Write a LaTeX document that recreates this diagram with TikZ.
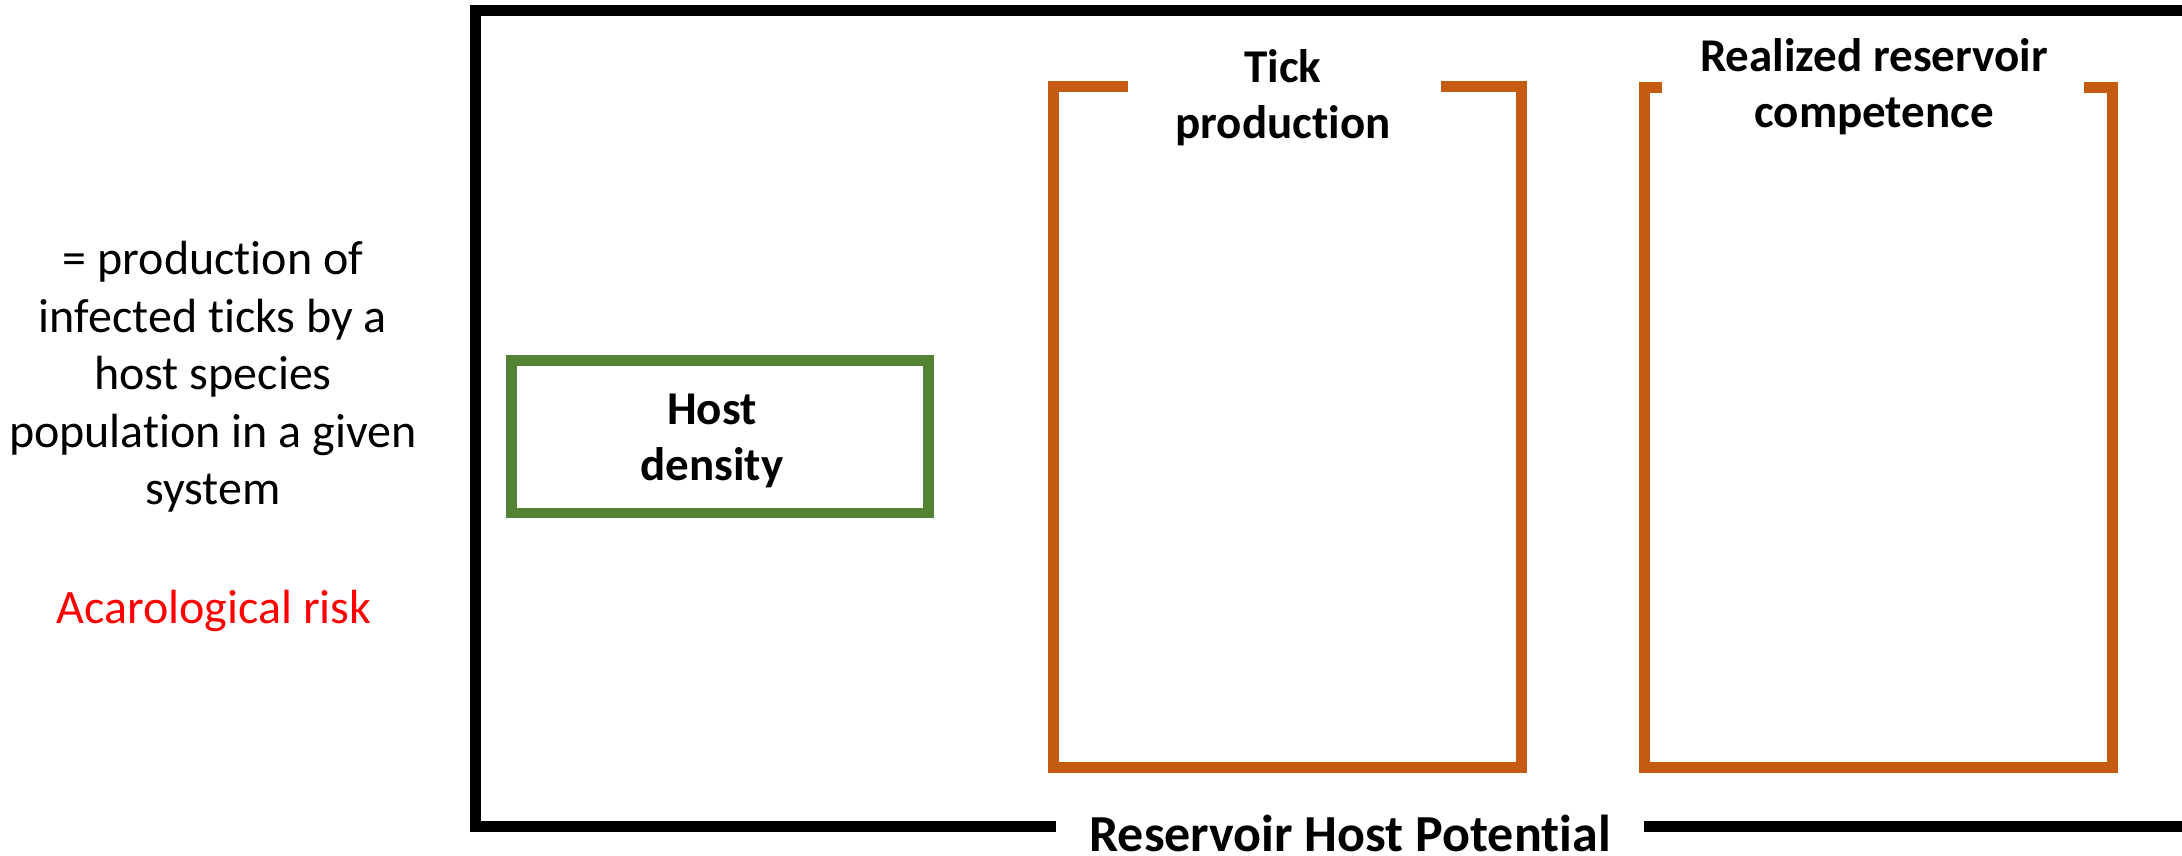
\documentclass[tikz,border=0pt]{standalone}
\usepackage{fontspec}
\setmainfont[Ligatures=NoCommon]{Carlito}
\definecolor{frameorange}{HTML}{C55A11}
\definecolor{framegreen}{HTML}{548235}
\definecolor{riskred}{HTML}{FF0000}
\begin{document}
\begin{tikzpicture}[x=1pt,y=-1pt,
  blackframe/.style={draw=black,line width=11pt,line join=miter,line cap=butt},
  orangeframe/.style={draw=frameorange,line width=11pt,line join=miter,line cap=butt},
  greenbox/.style={draw=framegreen,line width=10.5pt,minimum width=417pt,minimum height=152.5pt,inner sep=0pt},
  boldlabel/.style={align=center,inner sep=0pt,font=\fontsize{47}{56}\selectfont\bfseries},
  plainlabel/.style={align=center,inner sep=0pt,font=\fontsize{48}{57.5}\selectfont}]
\useasboundingbox (0,0) rectangle (2182,856);
% outer frame (right side lies beyond the picture)
\coordinate (ftr) at (2182,11);
\coordinate (ftl) at (475,11);
\coordinate (fbl) at (475,826);
\coordinate (fbg) at (1056,826);
\coordinate (fbh) at (1644,826);
\coordinate (fbr) at (2182,826);
\draw[blackframe] (ftr) -- (ftl) -- (fbl) -- (fbg);
\draw[blackframe] (fbh) -- (fbr);
\node[boldlabel,font=\fontsize{52}{60}\selectfont\bfseries,anchor=base] (rhp) at (1350,851.5) {Reservoir Host Potential};
% tick production bracket
\coordinate (ta) at (1128,86.5);
\coordinate (tb) at (1053.5,86.5);
\coordinate (tc) at (1053.5,767);
\coordinate (td) at (1521,767);
\coordinate (te) at (1521,86.5);
\coordinate (tf) at (1441,86.5);
\draw[orangeframe] (ta) -- (tb) -- (tc) -- (td) -- (te) -- (tf);
\node[boldlabel] (tick) at (1283,98) {Tick\\production};
% realized reservoir competence bracket
\coordinate (ra) at (1662,87.5);
\coordinate (rb) at (1644,87.5);
\coordinate (rc) at (1644,767.5);
\coordinate (rd) at (2112,767.5);
\coordinate (re) at (2112,87.5);
\coordinate (rf) at (2084,87.5);
\draw[orangeframe] (ra) -- (rb) -- (rc) -- (rd) -- (re) -- (rf);
\node[boldlabel] (rrc) at (1874,87) {Realized reservoir\\competence};
% host density
\node[greenbox] (hostbox) at (719.75,436.75) {};
\node[boldlabel] (host) at (712,441) {Host\\density};
% left description
\node[plainlabel] (desc) at (213,377) {= production of\\infected ticks by a\\host species\\population in a given\\system};
\node[plainlabel,text=riskred] (risk) at (214,611) {Acarological risk};
\end{tikzpicture}
\end{document}
